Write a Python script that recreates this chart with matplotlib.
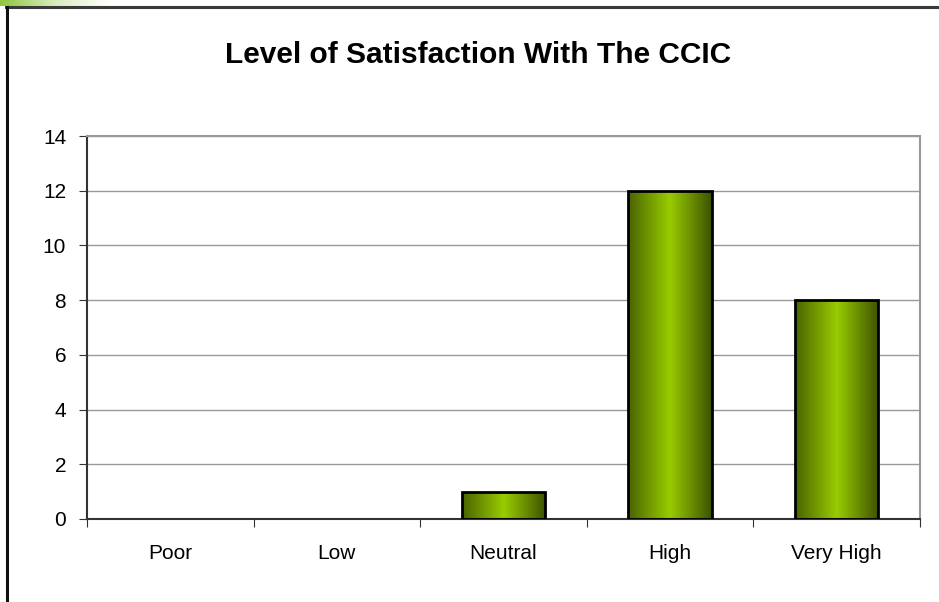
import numpy as np
import matplotlib.pyplot as plt
from matplotlib.colors import LinearSegmentedColormap

# Chart data
categories = ["Poor", "Low", "Neutral", "High", "Very High"]
counts = [0, 0, 1, 12, 8]
y_ticks = [0, 2, 4, 6, 8, 10, 12, 14]
title = "Level of Satisfaction With The CCIC"

plt.rcParams['font.family'] = ['Liberation Sans', 'DejaVu Sans']

fig = plt.figure(figsize=(9.39, 6.02), dpi=100)
fig.patch.set_facecolor('white')

# slide frame: thin green fade at the top-left corner, then dark lines top and left
deco = fig.add_axes([0, 1 - 6 / 602, 110 / 939, 6 / 602])
fade = LinearSegmentedColormap.from_list("fade", ["#8fc63f", "#d8ecbf", "#ffffff"])
deco.imshow(np.linspace(0, 1, 200).reshape(1, -1), cmap=fade, aspect='auto', extent=[0, 1, 0, 1])
deco.axis('off')
fig.add_artist(plt.Line2D([6 / 939, 1], [1 - 6.5 / 602] * 2, transform=fig.transFigure, color='#3a3a3a', lw=2.2))
fig.add_artist(plt.Line2D([6.5 / 939] * 2, [0, 1 - 6.5 / 602], transform=fig.transFigure, color='#111111', lw=2.2))

# plot area: x 87..920 px, y 136..519 px
ax = fig.add_axes([87 / 939, 1 - 519 / 602, 833 / 939, 383 / 602])
x = np.arange(len(categories))
bars = ax.bar(x, counts, width=0.5, color='none', edgecolor='black', linewidth=2, zorder=3)

# horizontal gradient inside each bar
bar_cmap = LinearSegmentedColormap.from_list(
    "bar", [(0.0, "#4a6300"), (0.5, "#99cc00"), (1.0, "#3d5200")])
grad = np.linspace(0, 1, 256).reshape(1, -1)
for b in bars:
    h = b.get_height()
    if h <= 0:
        b.set_visible(False)
        continue
    x0 = b.get_x()
    w = b.get_width()
    im = ax.imshow(grad, cmap=bar_cmap, aspect='auto', extent=[x0, x0 + w, 0, h], zorder=2)
    im.set_clip_path(b)

ax.set_xlim(-0.5, len(categories) - 0.5)
ax.set_ylim(0, 14)
ax.set_yticks(y_ticks)
ax.set_yticklabels([str(v) for v in y_ticks], fontsize=15)
ax.yaxis.grid(True, color='#999999', linewidth=1)
ax.set_axisbelow(True)

# category labels between boundary ticks
ax.set_xticks(np.arange(-0.5, len(categories), 1.0))
ax.set_xticklabels([])
ax.set_xticks(x, minor=True)
ax.set_xticklabels(categories, minor=True, fontsize=15)
ax.tick_params(axis='x', which='minor', length=0, pad=18)
ax.tick_params(axis='x', which='major', length=6, direction='out', color='#333333')
ax.tick_params(axis='y', length=6, direction='out', color='#333333', pad=9)

for side in ['top', 'right']:
    ax.spines[side].set_color('#999999')
    ax.spines[side].set_linewidth(1.5)
for side in ['left', 'bottom']:
    ax.spines[side].set_color('#333333')
    ax.spines[side].set_linewidth(1.5)

fig.text(478 / 939, 1 - 55 / 602, title, ha='center', va='center', fontsize=21.5, fontweight='bold')

fig.savefig("out.png", dpi=100)
